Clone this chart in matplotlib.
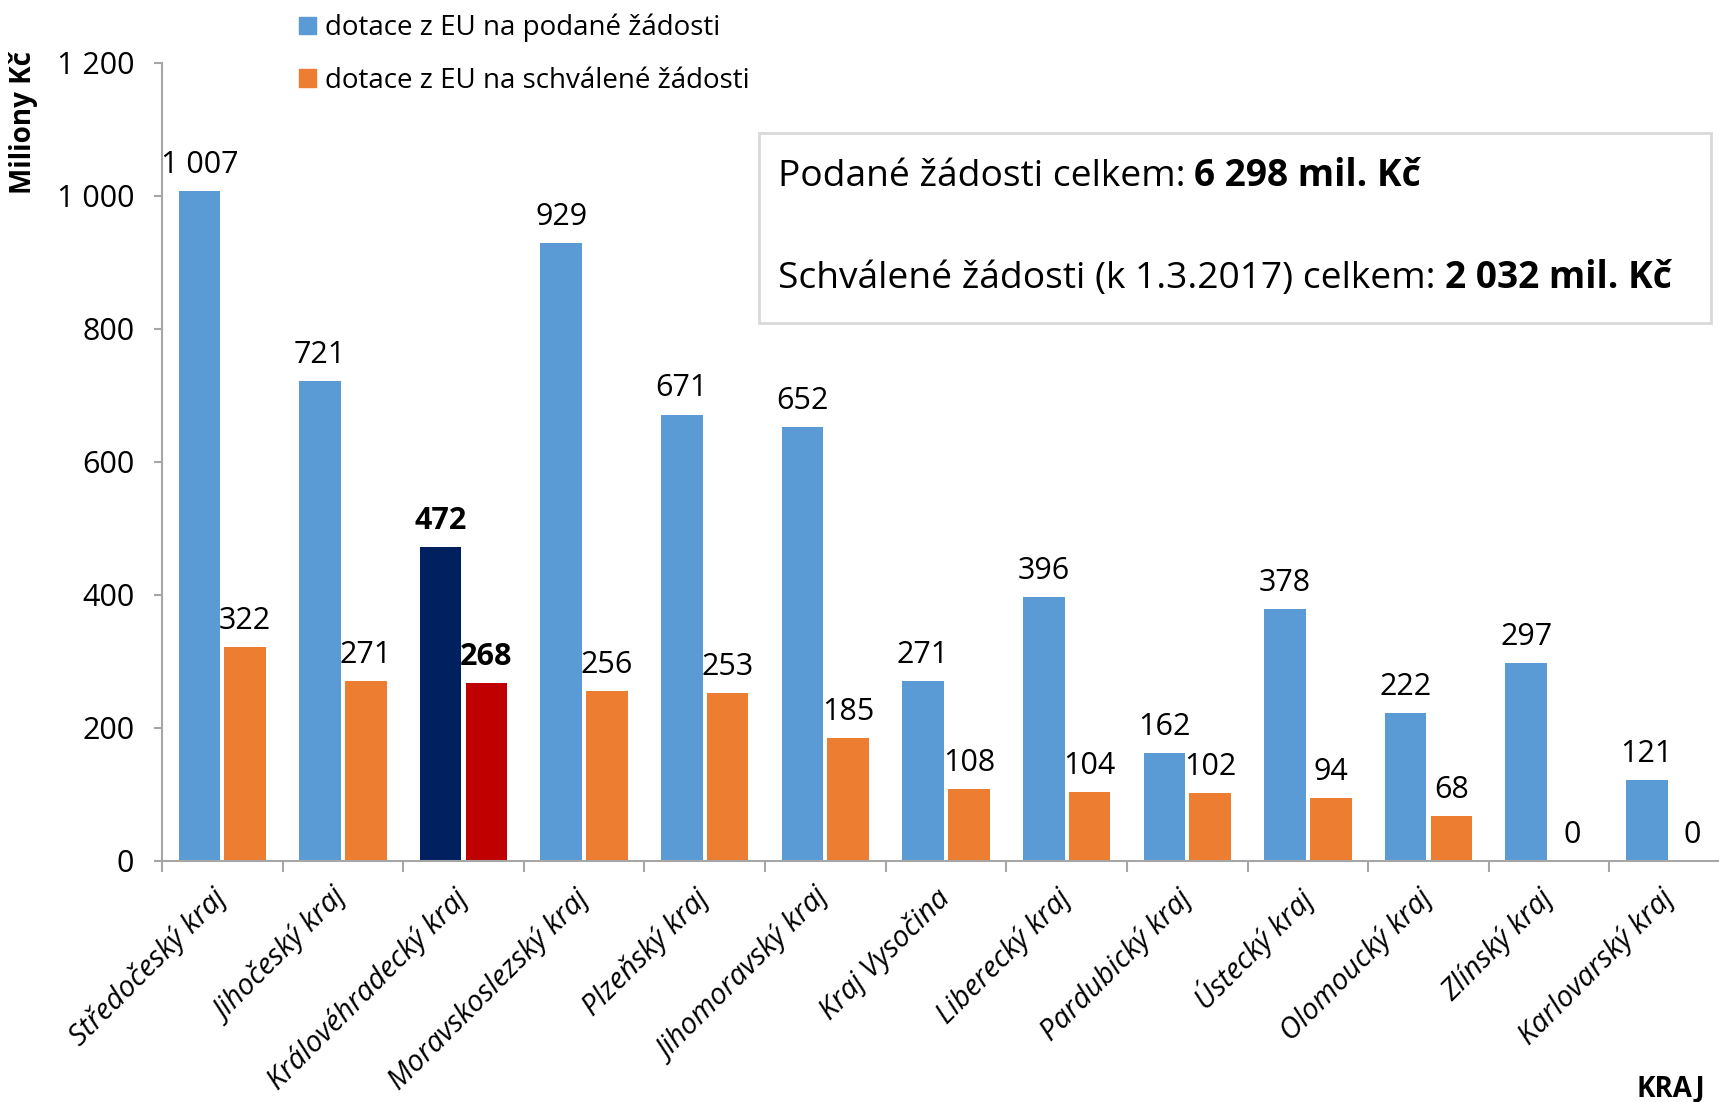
import numpy as np
import matplotlib
matplotlib.use('Agg')
import matplotlib.pyplot as plt
from matplotlib.patches import Rectangle
from matplotlib.transforms import ScaledTranslation
from matplotlib import font_manager

# data
kraje = ['Středočeský kraj', 'Jihočeský kraj', 'Královéhradecký kraj', 'Moravskoslezský kraj',
         'Plzeňský kraj', 'Jihomoravský kraj', 'Kraj Vysočina', 'Liberecký kraj',
         'Pardubický kraj', 'Ústecký kraj', 'Olomoucký kraj', 'Zlínský kraj', 'Karlovarský kraj']
podane = [1007, 721, 472, 929, 671, 652, 271, 396, 162, 378, 222, 297, 121]
schvalene = [322, 271, 268, 256, 253, 185, 108, 104, 102, 94, 68, 0, 0]
highlight = 2
yticks = [0, 200, 400, 600, 800, 1000, 1200]

names = set(f.name for f in font_manager.fontManager.ttflist)
fam = [f for f in ['Liberation Sans Narrow', 'Open Sans', 'DejaVu Sans'] if f in names]
plt.rcParams['font.family'] = fam

def fmt(v):
    return '{:,}'.format(v).replace(',', ' ')

W, H = 1719, 1102
fig = plt.figure(figsize=(W/100, H/100), dpi=100)
ax = fig.add_axes([162/W, 1 - 861/H, (1730-162)/W, (861-62.5)/H])

x = np.arange(len(kraje))
bw = 0.345
off = 0.19
c1 = ['#5B9BD5'] * len(kraje)
c2 = ['#ED7D31'] * len(kraje)
c1[highlight] = '#002060'
c2[highlight] = '#C00000'
b1 = ax.bar(x - off, podane, bw, color=c1)
b2 = ax.bar(x + off, schvalene, bw, color=c2)

fs = 22
for i in range(len(kraje)):
    w = 'bold' if i == highlight else 'normal'
    ax.annotate(fmt(podane[i]), (x[i] - off, podane[i]), xytext=(0, 13), textcoords='offset points',
                ha='center', va='baseline', fontsize=fs, fontweight=w)
    ax.annotate(fmt(schvalene[i]), (x[i] + off, schvalene[i]), xytext=(0, 13), textcoords='offset points',
                ha='center', va='baseline', fontsize=fs, fontweight=w)

ax.set_xlim(-0.5, len(kraje) - 0.5)
ax.set_ylim(0, 1200)
ax.set_yticks(yticks)
ax.set_yticklabels([fmt(v) for v in yticks], fontsize=fs)
ax.set_xticks(x)
ax.set_xticklabels(kraje, rotation=45, ha='right', va='center', rotation_mode='anchor',
                   fontsize=21, fontstyle='italic')
for lab in ax.get_xticklabels():
    lab.set_transform(lab.get_transform() + ScaledTranslation(0.1, 0, fig.dpi_scale_trans))
ax.set_xticks(np.arange(-0.5, len(kraje) + 0.5), minor=True)
ax.tick_params(axis='x', which='major', length=0, pad=24)
ax.tick_params(axis='x', which='minor', length=8, width=1.5, color='#A6A6A6', direction='out')
ax.tick_params(axis='y', length=6, width=1.5, color='#A6A6A6', pad=14)

for s in ['top', 'right']:
    ax.spines[s].set_visible(False)
for s in ['left', 'bottom']:
    ax.spines[s].set_color('#A6A6A6')
    ax.spines[s].set_linewidth(1.5)

# legend
ax.legend([b1[0], b2[0]], ['dotace z EU na podané žádosti', 'dotace z EU na schválené žádosti'],
          loc='upper left', bbox_to_anchor=(285/W, 1 + 0/H), bbox_transform=fig.transFigure,
          frameon=False, fontsize=20, handlelength=0.6, handleheight=0.6, handletextpad=0.35,
          labelspacing=0.88, borderpad=0)
leg = ax.get_legend()
leg.legend_handles[0].set_color('#5B9BD5')
leg.legend_handles[1].set_color('#ED7D31')

# axis titles
fig.text(24/W, 1 - 123/H, 'Miliony Kč', rotation=90, ha='center', va='center',
         fontsize=20, fontweight='bold')
fig.text(1705/W, 1 - 1089/H, 'KRAJ', ha='right', va='center', fontsize=20, fontweight='bold')

# text box with totals
fig.patches.append(Rectangle((759/W, 1 - 323/H), (1711-759)/W, (323-133)/H,
                             transform=fig.transFigure, facecolor='white',
                             edgecolor='#D9D9D9', linewidth=2))
fs2 = 26.7
lines = [('Podané žádosti celkem:', '6 298 mil. Kč', 186),
         ('Schválené žádosti (k 1.3.2017) celkem:', '2 032 mil. Kč', 288)]
fig.canvas.draw()
r = fig.canvas.get_renderer()
for a, b, yb in lines:
    t = fig.text(778/W, 1 - yb/H, a, ha='left', va='baseline', fontsize=fs2)
    ext = t.get_window_extent(renderer=r)
    fig.text(ext.x1/W + 9/W, 1 - yb/H, b, ha='left', va='baseline', fontsize=fs2, fontweight='bold')

fig.savefig('out.png', dpi=100)
